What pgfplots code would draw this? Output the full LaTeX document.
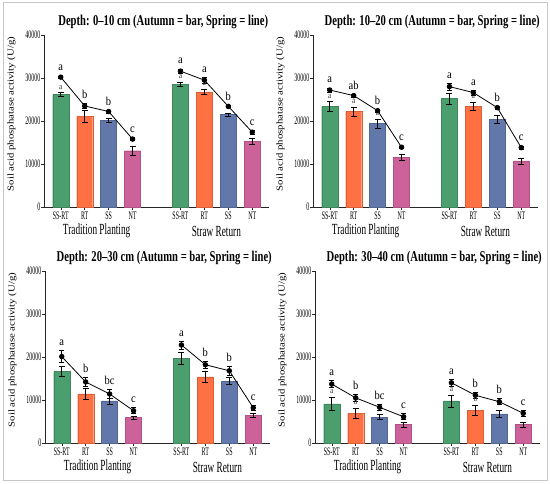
\documentclass[border=0pt]{standalone}
\usepackage{fontspec}
\setmainfont{Liberation Serif}
\newfontfamily\condfont[FakeStretch=0.52]{Liberation Serif}
\newfontfamily\groupfont[FakeStretch=0.6]{Liberation Serif}
\newfontfamily\titlefont[FakeStretch=0.71]{Liberation Serif}
\newfontfamily\letterfont[FakeStretch=0.88]{Liberation Serif}
\newfontfamily\labfont[FakeStretch=1.2]{Liberation Serif}
\usepackage{pgfplots}
\pgfplotsset{compat=1.18}
\definecolor{cg}{RGB}{75,158,110}
\definecolor{co}{RGB}{255,112,67}
\definecolor{cb}{RGB}{98,120,170}
\definecolor{cp}{RGB}{205,98,155}
\pgfplotsset{
  panel/.style={
    scale only axis, width=225bp, height=172bp,
    xmin=-0.7, xmax=8.7, ymin=0, ymax=40000,
    axis x line*=bottom, axis y line*=left,
    axis line style={-, line width=0.6bp, black!85},
    tick align=outside, major tick length=3bp,
    tick style={black!85, line width=0.5bp},
    xtick={0,1,2,3,5,6,7,8},
    xticklabels={SS-RT,RT,SS,NT,SS-RT,RT,SS,NT},
    ytick={0,10000,20000,30000,40000}, scaled y ticks=false,
    yticklabel style={/pgf/number format/1000 sep={}, inner xsep=0.5bp},
    xticklabel style={inner ysep=2bp},
    /pgf/number format/assume math mode=true,
    tick label style={font=\condfont\fontsize{11.5}{12}\selectfont, text=black},
    every axis title/.style={at={(axis description cs:0.53,1)}, anchor=center, yshift=13bp,
      font=\titlefont\bfseries\fontsize{15}{15}\selectfont},
    ylabel={Soil acid phosphatase activity (U/g)},
    every axis y label/.style={at={(axis description cs:-0.145,0.54)}, rotate=90,
      anchor=center, font=\labfont\fontsize{9}{9}\selectfont},
    clip=false,
  },
  mybar/.style={ybar, bar width=0.67, bar shift=0pt, fill=#1, draw=#1!85!black,
    line width=0.3bp,
    error bars/y dir=both, error bars/y explicit,
    error bars/error bar style={black, line width=0.6bp},
    error bars/error mark options={rotate=90, mark size=3bp, black, line width=0.6bp}},
  spring/.style={black, line width=0.8bp, mark=*, mark size=2.3bp,
    mark options={solid, fill=black},
    error bars/y dir=both, error bars/y explicit,
    error bars/error bar style={black, line width=0.6bp},
    error bars/error mark options={rotate=90, mark size=2.5bp, black, line width=0.6bp}},
  letters/.style={draw=none, mark=none, nodes near coords, point meta=explicit symbolic,
    nodes near coords style={anchor=base, yshift=5bp, inner sep=0pt, text=black,
      font=\letterfont\fontsize{12}{12}\selectfont}},
  barletters/.style={draw=none, mark=none, nodes near coords, point meta=explicit symbolic,
    nodes near coords style={anchor=base, yshift=3.5bp, inner sep=0pt, text=black!80,
      font=\letterfont\fontsize{8.5}{8.5}\selectfont}},
}
\newcommand\grouplabels{%
  \node[font=\groupfont\fontsize{15.5}{15.5}\selectfont] at (axis cs:1.5,0) [yshift=-24bp] {Tradition Planting};
  \node[font=\groupfont\fontsize{15.5}{15.5}\selectfont] at (axis cs:6.5,0) [yshift=-24bp] {Straw Return};}
\begin{document}
\begin{tikzpicture}
\path[use as bounding box] (0,0) rectangle (550bp,484bp);
\draw[black!22, line width=1bp] (3bp,3bp) rectangle (547bp,481bp);

% ---------- Panel 1: 0-10 cm
\begin{axis}[panel, at={(44bp,277bp)}, anchor=south west,
  title={Depth: 0–10 cm (Autumn = bar, Spring = line)}]
\addplot[mybar=cg] coordinates {(0,26200) +- (0,400) (5,28500) +- (0,500)};
\addplot[mybar=co] coordinates {(1,21100) +- (0,1300) (6,26800) +- (0,600)};
\addplot[mybar=cb] coordinates {(2,20200) +- (0,400) (7,21500) +- (0,300)};
\addplot[mybar=cp] coordinates {(3,13100) +- (0,1100) (8,15300) +- (0,700)};
\addplot[barletters] table[meta=l] {
x y l
0 26600 a
5 29000 a
6 27400 a
};
\addplot[spring] coordinates {(0,30200) +- (0,300) (1,23500) +- (0,600) (2,22200) +- (0,300) (3,15800) +- (0,400)};
\addplot[spring] coordinates {(5,31600) +- (0,500) (6,29500) +- (0,700) (7,23400) +- (0,300) (8,17400) +- (0,500)};
\addplot[letters] table[meta=l] {
x y l
0 30500 a
1 24100 b
2 22500 b
3 16200 c
5 32100 a
6 30200 a
7 23700 b
8 17900 c
};
\grouplabels
\end{axis}

% ---------- Panel 2: 10-20 cm
\begin{axis}[panel, at={(313bp,277bp)}, anchor=south west,
  title={Depth: 10–20 cm (Autumn = bar, Spring = line)}]
\addplot[mybar=cg] coordinates {(0,23400) +- (0,1100) (5,25200) +- (0,1300)};
\addplot[mybar=co] coordinates {(1,22200) +- (0,1100) (6,23400) +- (0,1000)};
\addplot[mybar=cb] coordinates {(2,19400) +- (0,1000) (7,20400) +- (0,1000)};
\addplot[mybar=cp] coordinates {(3,11500) +- (0,700) (8,10700) +- (0,700)};
\addplot[barletters] table[meta=l] {
x y l
0 24500 a
1 23300 a
2 20400 a
5 26500 a
6 24400 a
};
\addplot[spring] coordinates {(0,27200) +- (0,500) (1,25900) +- (0,300) (2,22400) +- (0,300) (3,13900) +- (0,300)};
\addplot[spring] coordinates {(5,28000) +- (0,800) (6,26600) +- (0,600) (7,23100) +- (0,300) (8,13800) +- (0,400)};
\addplot[letters] table[meta=l] {
x y l
0 27700 a
1 26200 ab
2 22700 b
3 14200 c
5 28800 a
6 27200 a
7 23400 b
8 14200 c
};
\grouplabels
\end{axis}

% ---------- Panel 3: 20-30 cm
\begin{axis}[panel, at={(45bp,41bp)}, anchor=south west,
  title={Depth: 20–30 cm (Autumn = bar, Spring = line)}]
\addplot[mybar=cg] coordinates {(0,16600) +- (0,1200) (5,19700) +- (0,1300)};
\addplot[mybar=co] coordinates {(1,11400) +- (0,1300) (6,15400) +- (0,1300)};
\addplot[mybar=cb] coordinates {(2,9800) +- (0,700) (7,14400) +- (0,800)};
\addplot[mybar=cp] coordinates {(3,5900) +- (0,400) (8,6400) +- (0,400)};
\addplot[spring] coordinates {(0,20100) +- (0,1400) (1,14200) +- (0,1100) (2,11400) +- (0,1000) (3,7500) +- (0,700)};
\addplot[spring] coordinates {(5,22800) +- (0,900) (6,18200) +- (0,800) (7,16800) +- (0,1000) (8,8200) +- (0,500)};
\addplot[letters] table[meta=l] {
x y l
0 21500 a
1 15300 b
2 12400 bc
3 8200 c
5 23700 a
6 19000 b
7 17800 b
8 8700 c
};
\grouplabels
\end{axis}

% ---------- Panel 4: 30-40 cm
\begin{axis}[panel, at={(315bp,41bp)}, anchor=south west,
  title={Depth: 30–40 cm (Autumn = bar, Spring = line)}]
\addplot[mybar=cg] coordinates {(0,9100) +- (0,1500) (5,9800) +- (0,1400)};
\addplot[mybar=co] coordinates {(1,6900) +- (0,1200) (6,7600) +- (0,1200)};
\addplot[mybar=cb] coordinates {(2,6000) +- (0,600) (7,6800) +- (0,800)};
\addplot[mybar=cp] coordinates {(3,4300) +- (0,600) (8,4300) +- (0,600)};
\addplot[barletters] table[meta=l] {
x y l
0 10600 a
1 8100 a
5 11200 a
6 8800 b
};
\addplot[spring] coordinates {(0,13700) +- (0,800) (1,10500) +- (0,800) (2,8300) +- (0,700) (3,6100) +- (0,700)};
\addplot[spring] coordinates {(5,14000) +- (0,800) (6,11100) +- (0,700) (7,9600) +- (0,700) (8,6900) +- (0,700)};
\addplot[letters] table[meta=l] {
x y l
0 14500 a
1 11300 b
2 9000 bc
3 6800 c
5 14800 a
6 11800 b
7 10300 b
8 7600 c
};
\grouplabels
\end{axis}
\end{tikzpicture}
\end{document}
